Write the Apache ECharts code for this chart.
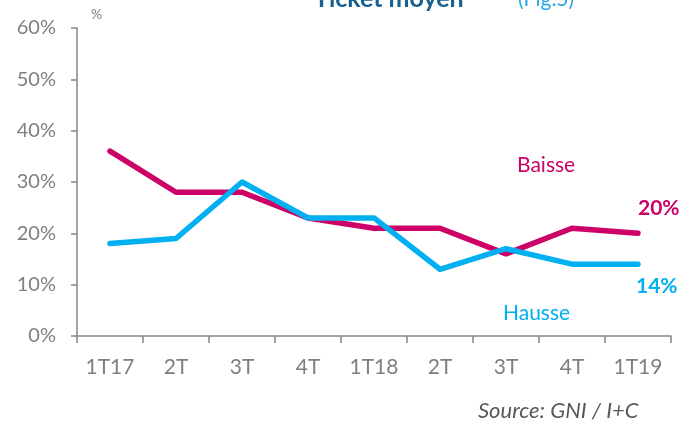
<!DOCTYPE html>
<html>
<head>
<meta charset="utf-8">
<script src="https://cdn.jsdelivr.net/npm/echarts@6/dist/echarts.min.js"></script>
<style>
  html, body { margin: 0; padding: 0; background: #ffffff; }
  #chart { width: 693px; height: 427px; }
</style>
</head>
<body>
<div id="chart"></div>
<script>
const categories = ['1T17', '2T', '3T', '4T', '1T18', '2T', '3T', '4T', '1T19']
const baisse = [36, 28, 28, 23, 21, 21, 16, 21, 20]
const hausse = [18, 19, 30, 23, 23, 13, 17, 14, 14]

const font = 'Lato, "Open Sans", sans-serif'
const pink = '#cc0066'
const cyan = '#00b0f0'
const grey = '#7f7f7f'

const chart = echarts.init(document.getElementById('chart'))
chart.setOption({
  backgroundColor: '#ffffff',
  animation: false,
  grid: {
    left: 77,
    right: 22,
    top: 28,
    bottom: 91
  },
  xAxis: {
    type: 'category',
    data: categories,
    boundaryGap: true,
    axisLine: { lineStyle: { color: '#868686', width: 1.5 } },
    axisTick: { show: true, length: 7, lineStyle: { color: '#868686', width: 1.5 } },
    axisLabel: { color: grey, fontFamily: font, fontSize: 21, margin: 21 }
  },
  yAxis: {
    type: 'value',
    min: 0,
    max: 60,
    interval: 10,
    axisLine: { show: true, lineStyle: { color: '#868686', width: 1.5 } },
    axisTick: { show: true, length: 6, lineStyle: { color: '#868686', width: 1.5 } },
    splitLine: { show: false },
    axisLabel: { color: grey, fontFamily: font, fontSize: 20, margin: 21, formatter: '{value}%' }
  },
  series: [
    {
      name: 'Baisse',
      type: 'line',
      data: baisse,
      symbol: 'none',
      lineStyle: { color: pink, width: 5.5, cap: 'round', join: 'round' },
      endLabel: {
        show: true,
        formatter: '{c}%',
        color: pink,
        fontFamily: font,
        fontWeight: 'bold',
        fontSize: 21,
        distance: 0,
        offset: [0, -25]
      }
    },
    {
      name: 'Hausse',
      type: 'line',
      data: hausse,
      symbol: 'none',
      lineStyle: { color: cyan, width: 5.5, cap: 'round', join: 'round' },
      endLabel: {
        show: true,
        formatter: '{c}%',
        color: cyan,
        fontFamily: font,
        fontWeight: 'bold',
        fontSize: 21,
        distance: 0,
        offset: [-2, 22]
      }
    }
  ],
  graphic: [
    {
      type: 'text',
      left: 314,
      top: -14,
      style: { text: 'Ticket moyen', fill: '#17608f', font: 'bold 25px ' + font }
    },
    {
      type: 'text',
      left: 518,
      top: -11,
      style: { text: '(Fig.5)', fill: '#2aa7e8', font: '21px ' + font }
    },
    {
      type: 'text',
      left: 91,
      top: 7,
      style: { text: '%', fill: grey, font: '14px ' + font }
    },
    {
      type: 'text',
      left: 517,
      top: 155,
      style: { text: 'Baisse', fill: pink, font: '21px ' + font }
    },
    {
      type: 'text',
      left: 503,
      top: 303,
      style: { text: 'Hausse', fill: cyan, font: '21px ' + font }
    },
    {
      type: 'text',
      left: 478,
      top: 400,
      style: { text: 'Source: GNI / I+C', fill: '#595959', font: 'italic 22px ' + font }
    }
  ]
})
</script>
</body>
</html>
